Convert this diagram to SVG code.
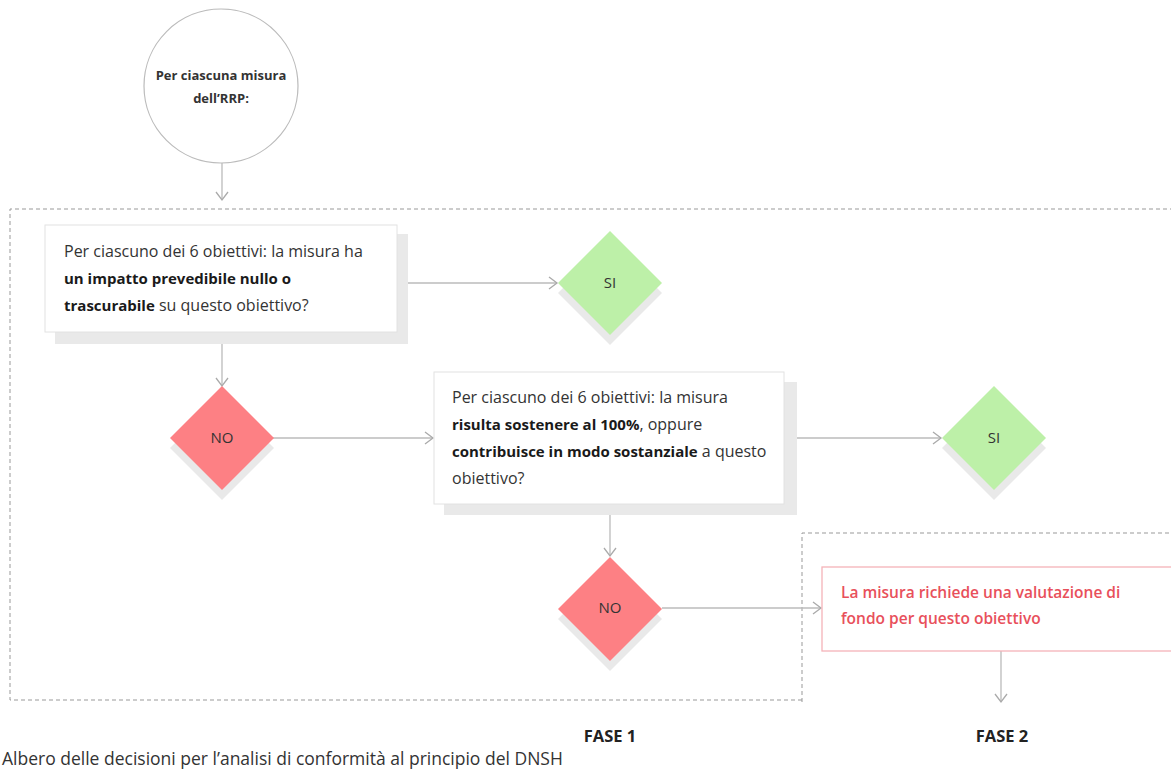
<svg xmlns="http://www.w3.org/2000/svg" width="1171" height="769" viewBox="0 0 1171 769">
<style>
.t{font-family:"Open Sans","Liberation Sans",sans-serif;font-size:16px;fill:#333}
.b{font-weight:bold;fill:#1a1a1a;font-size:15px}
.dash{fill:none;stroke:#999;stroke-width:1;stroke-dasharray:4 3}
.con{fill:none;stroke:#bbb;stroke-width:1.3}
.box{fill:#fff;stroke:#e2e2e2;stroke-width:1}
.shadow{fill:#e9e9e9}
.si{fill:#bdf0a8}
.no{fill:#fd8084}
.red{font-size:15.5px;font-weight:600;fill:#e8505b}
.lbl{font-family:"Open Sans","Liberation Sans",sans-serif;font-size:15px;fill:#333;text-anchor:middle}
.fase{font-family:"Open Sans","Liberation Sans",sans-serif;font-size:16.5px;font-weight:bold;fill:#222;text-anchor:middle}
</style>
<defs>
<marker id="arr" markerUnits="userSpaceOnUse" markerWidth="12" markerHeight="16" refX="9" refY="7" orient="auto">
<path d="M1,1 L9,7 L1,13" fill="none" stroke="#aaa" stroke-width="1.3"/>
</marker>
</defs>
<rect width="1171" height="769" fill="#fff"/>

<g id="phases">
<path class="dash" d="M802,700 H10 V209 H1171"/>
<path class="dash" d="M802,702 V533 H1171"/>
</g>

<g id="start">
<circle cx="221" cy="86" r="77" fill="#fff" stroke="#bbb" stroke-width="1.2"/>
<text class="lbl" x="221" y="80" style="font-size:13px;font-weight:bold">Per ciascuna misura</text>
<text class="lbl" x="221" y="103" style="font-size:13px;font-weight:bold">dell’RRP:</text>
</g>

<g id="connectors">
<line class="con" x1="222" y1="163" x2="222" y2="200" marker-end="url(#arr)"/>
<line class="con" x1="397" y1="283" x2="557" y2="283" marker-end="url(#arr)"/>
<line class="con" x1="222" y1="332" x2="222" y2="386" marker-end="url(#arr)"/>
<line class="con" x1="273" y1="438" x2="433" y2="438" marker-end="url(#arr)"/>
<line class="con" x1="784" y1="438" x2="941" y2="438" marker-end="url(#arr)"/>
<line class="con" x1="610" y1="504" x2="610" y2="556" marker-end="url(#arr)"/>
<line class="con" x1="662" y1="608" x2="821" y2="608" marker-end="url(#arr)"/>
<line class="con" x1="1001" y1="651" x2="1001" y2="702" marker-end="url(#arr)"/>
</g>

<g id="q1">
<rect class="shadow" x="55" y="234" width="353" height="110"/>
<rect class="box" x="45" y="225" width="352" height="107"/>
<text class="t" x="64" y="257">Per ciascuno dei 6 obiettivi: la misura ha</text>
<text class="t b" x="64" y="284">un impatto prevedibile nullo o</text>
<text class="t" x="64" y="311"><tspan class="b">trascurabile</tspan> su questo obiettivo?</text>
</g>

<g id="si1">
<polygon class="shadow" points="610,241 662,293 610,345 558,293"/>
<polygon class="si" points="610,231 662,283 610,335 558,283"/>
<text class="lbl" x="610" y="288">SI</text>
</g>

<g id="no1">
<polygon class="shadow" points="222,396 274,448 222,500 170,448"/>
<polygon class="no" points="222,386 274,438 222,490 170,438"/>
<text class="lbl" x="222" y="443">NO</text>
</g>

<g id="q2">
<rect class="shadow" x="444" y="382" width="353" height="133"/>
<rect class="box" x="434" y="372" width="350" height="132"/>
<text class="t" x="452" y="403">Per ciascuno dei 6 obiettivi: la misura</text>
<text class="t" x="452" y="430"><tspan class="b">risulta sostenere al 100%</tspan>, oppure</text>
<text class="t" x="452" y="457"><tspan class="b">contribuisce in modo sostanziale</tspan> a questo</text>
<text class="t" x="452" y="484">obiettivo?</text>
</g>

<g id="si2">
<polygon class="shadow" points="994,396 1046,448 994,500 942,448"/>
<polygon class="si" points="994,386 1046,438 994,490 942,438"/>
<text class="lbl" x="994" y="443">SI</text>
</g>

<g id="no2">
<polygon class="shadow" points="610,567 662,619 610,671 558,619"/>
<polygon class="no" points="610,557 662,609 610,661 558,609"/>
<text class="lbl" x="610" y="613">NO</text>
</g>

<g id="result">
<rect x="822" y="567" width="360" height="84" fill="#fff" stroke="#f5b3b8" stroke-width="1.3"/>
<text class="t red" x="841" y="598">La misura richiede una valutazione di</text>
<text class="t red" x="841" y="624">fondo per questo obiettivo</text>
</g>

<g id="labels">
<text class="fase" x="610" y="742">FASE 1</text>
<text class="fase" x="1002" y="742">FASE 2</text>
<text x="2" y="765" style="font-family:'Open Sans','Liberation Sans',sans-serif;font-size:17.5px;fill:#333">Albero delle decisioni per l’analisi di conformità al principio del DNSH</text>
</g>
</svg>
